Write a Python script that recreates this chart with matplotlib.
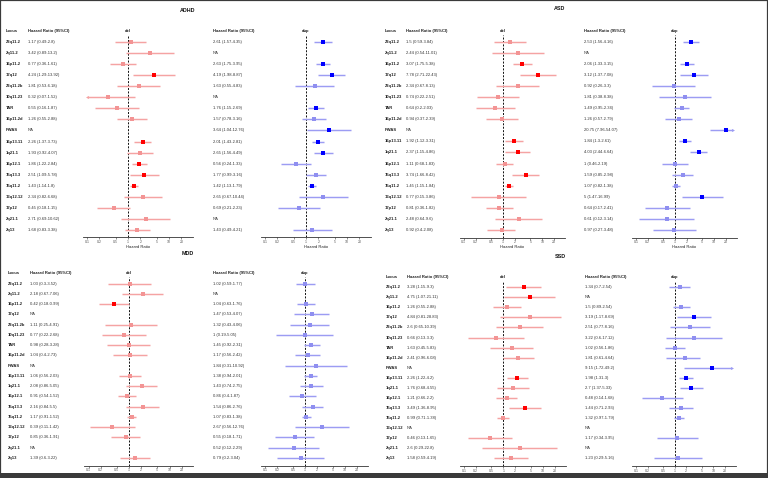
import numpy as np
import matplotlib
matplotlib.use("Agg")
import matplotlib.pyplot as plt
import matplotlib.transforms as mtransforms
from matplotlib.patches import Rectangle

plt.rcParams['font.family'] = ['Liberation Sans', 'DejaVu Sans']

NA = np.nan

loci = ["22q11.2", "2q11.2", "16p11.2", "17q12", "22q11.2b", "10q11.23", "TAR",
        "16p11.2d", "PWAS", "16p13.11", "1q21.1", "16p12.1", "15q13.3", "15q11.2",
        "13q12.12", "17p12", "2q21.1", "2q13"]

# ---- ADHD ----
adhd_del_hr = [1.17, 3.42, 0.77, 4.24, 1.81, 0.32, 0.55, 1.26, NA, 2.26, 1.93, 1.86, 2.51, 1.43, 2.34, 0.45, 2.71, 1.68]
adhd_del_lo = [0.49, 0.89, 0.36, 1.29, 0.53, 0.07, 0.16, 0.55, NA, 1.37, 0.92, 1.22, 1.09, 1.14, 0.82, 0.18, 0.69, 0.83]
adhd_del_hi = [2.8, 13.2, 1.61, 13.92, 6.18, 1.52, 1.87, 2.88, NA, 3.73, 4.07, 2.84, 5.78, 1.8, 6.68, 1.15, 10.62, 3.38]
adhd_dup_hr = [2.61, NA, 2.63, 4.19, 1.63, NA, 1.76, 1.57, 3.64, 2.01, 2.65, 0.56, 1.77, 1.42, 2.65, 0.69, NA, 1.43]
adhd_dup_lo = [1.57, NA, 1.75, 1.98, 0.55, NA, 1.15, 0.78, 1.04, 1.43, 1.56, 0.24, 0.99, 1.13, 0.67, 0.21, NA, 0.49]
adhd_dup_hi = [4.35, NA, 3.95, 8.87, 4.83, NA, 2.69, 3.16, 12.76, 2.81, 4.49, 1.33, 3.16, 1.79, 10.44, 2.23, NA, 4.21]

# ---- ASD ----
asd_del_hr = [1.5, 2.44, 3.07, 7.78, 2.34, 0.74, 0.64, 0.94, NA, 1.92, 2.37, 1.11, 3.74, 1.45, 0.77, 0.81, 2.48, 0.92]
asd_del_lo = [0.59, 0.54, 1.75, 2.71, 0.67, 0.22, 0.2, 0.37, NA, 1.12, 1.15, 0.68, 1.66, 1.15, 0.15, 0.36, 0.64, 0.4]
asd_del_hi = [3.84, 11.01, 5.38, 22.43, 8.13, 2.51, 2.03, 2.39, NA, 3.31, 4.86, 1.83, 8.42, 1.84, 3.86, 1.82, 9.6, 2.08]
asd_dup_hr = [2.53, NA, 2.06, 3.12, 0.92, 1.81, 1.49, 1.26, 20.75, 1.84, 4.03, 1, 1.59, 1.07, 5, 0.64, 0.61, 0.97]
asd_dup_lo = [1.56, NA, 1.33, 1.37, 0.26, 0.38, 0.95, 0.57, 7.96, 1.3, 2.44, 0.46, 0.85, 0.82, 1.47, 0.17, 0.12, 0.27]
asd_dup_hi = [4.16, NA, 3.15, 7.08, 3.3, 8.38, 2.34, 2.79, 54.07, 2.61, 6.64, 2.19, 2.98, 1.38, 16.99, 2.41, 3.14, 3.48]

# ---- MDD ----
mdd_del_hr = [1.03, 2.18, 0.42, NA, 1.11, 0.77, 0.98, 1.04, NA, 1.06, 2.08, 0.91, 2.16, 1.17, 0.39, 0.85, NA, 1.39]
mdd_del_lo = [0.3, 0.67, 0.18, NA, 0.25, 0.22, 0.28, 0.4, NA, 0.56, 0.86, 0.54, 0.84, 0.91, 0.11, 0.36, NA, 0.6]
mdd_del_hi = [3.52, 7.06, 0.99, NA, 4.91, 2.68, 3.28, 2.73, NA, 2.03, 5.05, 1.52, 5.5, 1.52, 1.42, 1.91, NA, 3.22]
mdd_dup_hr = [1.02, NA, 1.04, 1.47, 1.32, 1, 1.45, 1.17, 1.84, 1.38, 1.43, 0.86, 1.54, 1.07, 2.67, 0.55, 0.52, 0.79]
mdd_dup_lo = [0.59, NA, 0.63, 0.53, 0.43, 0.19, 0.92, 0.56, 0.31, 0.94, 0.74, 0.4, 0.86, 0.83, 0.56, 0.18, 0.12, 0.2]
mdd_dup_hi = [1.77, NA, 1.76, 4.07, 4.06, 5.05, 2.31, 2.42, 10.92, 2.01, 2.75, 1.87, 2.76, 1.38, 12.76, 1.71, 2.29, 3.04]

# ---- SSD ----
ssd_del_hr = [3.28, 4.75, 1.26, 4.84, 2.6, 0.66, 1.63, 2.41, NA, 2.26, 1.76, 1.21, 3.49, 0.99, NA, 0.46, 2.6, 1.58]
ssd_del_lo = [1.15, 1.07, 0.55, 0.81, 0.65, 0.13, 0.45, 0.96, NA, 1.22, 0.68, 0.66, 1.36, 0.71, NA, 0.13, 0.29, 0.59]
ssd_del_hi = [9.3, 21.11, 2.88, 28.83, 10.39, 3.3, 5.83, 6.08, NA, 4.2, 4.55, 2.2, 8.95, 1.38, NA, 1.65, 22.8, 4.19]
ssd_dup_hr = [1.34, NA, 1.5, 3.19, 2.51, 3.22, 1.02, 1.81, 9.15, 1.98, 2.7, 0.48, 1.44, 1.32, NA, 1.17, NA, 1.23]
ssd_dup_lo = [0.7, NA, 0.89, 1.17, 0.77, 0.6, 0.56, 0.61, 1.72, 1.31, 1.37, 0.14, 0.71, 0.97, NA, 0.34, NA, 0.29]
ssd_dup_hi = [2.54, NA, 2.54, 8.69, 8.16, 17.12, 1.86, 4.64, 49.2, 3, 5.33, 1.68, 2.93, 1.79, NA, 3.95, NA, 5.16]

ticks = [0.1, 0.2, 0.5, 1, 2, 5, 10, 20]
tick_labels = ["0.1", "0.2", "0.5", "1", "2", "5", "10", "20"]
clip = (0.1, 30)

W, H = 768, 478
fig = plt.figure(figsize=(W / 100, H / 100), dpi=100)

col = {"del": {"line": "#f5a3a3", "weak": "#f39494", "strong": "#ff0000"},
       "dup": {"line": "#9c9cf3", "weak": "#8f8ff0", "strong": "#0000ff"}}
FS = 3.0


def fmt(v):
    return "{:g}".format(v)


def forest(kind, hr, lo, hi, cx, d, hr_x, geo):
    y0, y17, yaxis, yhead = geo["y0"], geo["y17"], geo["yaxis"], geo["yhead"]
    s = (y17 - y0) / 17.0
    ytop = yhead + 3.5
    lmin, lmax = -1.1, 1.58
    x0 = cx + lmin * d
    x1 = cx + lmax * d
    ax = fig.add_axes([x0 / W, 1 - yaxis / H, (x1 - x0) / W, (yaxis - ytop) / H])
    ax.set_xscale("log")
    ax.set_xlim(10 ** lmin, 10 ** lmax)
    ax.set_ylim((yaxis - y0) / s, (ytop - y0) / s)
    ax.patch.set_alpha(0)
    for sp in ["top", "right", "left"]:
        ax.spines[sp].set_visible(False)
    ax.spines["bottom"].set_linewidth(0.6)
    ax.spines["bottom"].set_color("#333333")
    ax.set_yticks([])
    ax.set_xticks(ticks)
    ax.set_xticklabels(tick_labels)
    ax.minorticks_off()
    ax.tick_params(axis="x", labelsize=2.5, length=1.2, width=0.4, pad=0.8,
                   labelcolor="#555555", color="#333333")
    ax.set_xlabel("Hazard Ratio", fontsize=3.0, labelpad=0.6, color="#222222")
    ax.axvline(1, color="black", ls=(0, (2.2, 1.6)), lw=0.65, zorder=1)

    c = col[kind]
    trans = mtransforms.blended_transform_factory(fig.transFigure, ax.transData)
    ax.text(hr_x / W, (yhead - y0) / s, "Hazard Ratio (95%CI)", transform=trans,
            fontsize=FS, fontweight="bold", va="center", ha="left", color="#222222")
    ax.text(1, (yhead - y0) / s, kind, fontsize=FS, fontweight="bold",
            va="center", ha="center", color="#222222")
    for i in range(len(hr)):
        if np.isnan(hr[i]):
            ax.text(hr_x / W, i, "NA", transform=trans, fontsize=FS,
                    va="center", ha="left", color="#333333")
            continue
        ax.text(hr_x / W, i, "%s (%s-%s)" % (fmt(hr[i]), fmt(lo[i]), fmt(hi[i])),
                transform=trans, fontsize=FS, va="center", ha="left", color="#333333")
        a = max(lo[i], clip[0])
        b = min(hi[i], clip[1])
        ax.plot([a, b], [i, i], color=c["line"], lw=1.05, solid_capstyle="butt", zorder=2)
        if lo[i] < clip[0]:
            ax.plot(a, i, marker="<", ms=2.2, color=c["line"], mew=0, zorder=2)
        if hi[i] > clip[1]:
            ax.plot(b, i, marker=">", ms=2.2, color=c["line"], mew=0, zorder=2)
        sig = lo[i] > 1 or hi[i] < 1
        if sig:
            ax.plot(hr[i], i, marker="s", ms=3.2, color=c["strong"], mew=0, zorder=3)
        else:
            ax.plot(hr[i], i, marker="s", ms=2.3, color=c["weak"], mew=0, zorder=3)
    return ax


def panel(name, title_xy, geo, locus_x, dl, du):
    fig.text(title_xy[0] / W, 1 - title_xy[1] / H, name, fontsize=3.9,
             fontweight="bold", ha="center", va="center", color="#111111")
    ax = forest("del", *dl, geo)
    forest("dup", *du, geo)
    s = (geo["y17"] - geo["y0"]) / 17.0
    trans = mtransforms.blended_transform_factory(fig.transFigure, ax.transData)
    ax.text(locus_x / W, (geo["yhead"] - geo["y0"]) / s, "Locus", transform=trans,
            fontsize=FS, fontweight="bold", va="center", ha="left", color="#222222")
    for i, lab in enumerate(loci):
        ax.text(locus_x / W, i, lab, transform=trans, fontsize=FS,
                fontweight="bold", va="center", ha="left", color="#222222")


panel("ADHD", (188, 10), dict(y0=42, y17=230, yaxis=237, yhead=31), 6,
      (adhd_del_hr, adhd_del_lo, adhd_del_hi, 128, 41, 28),
      (adhd_dup_hr, adhd_dup_lo, adhd_dup_hi, 306, 41, 213))
panel("ASD", (560, 9), dict(y0=41.7, y17=230, yaxis=237.5, yhead=31), 385,
      (asd_del_hr, asd_del_lo, asd_del_hi, 503, 39.3, 406),
      (asd_dup_hr, asd_dup_lo, asd_dup_hi, 675, 39, 584))
panel("MDD", (188, 253.5), dict(y0=283.7, y17=458, yaxis=465.5, yhead=273), 8,
      (mdd_del_hr, mdd_del_lo, mdd_del_hi, 129, 40.5, 30),
      (mdd_dup_hr, mdd_dup_lo, mdd_dup_hi, 305, 40, 212.7))
panel("SSD", (560, 256.5), dict(y0=287.3, y17=458, yaxis=466, yhead=277), 386,
      (ssd_del_hr, ssd_del_lo, ssd_del_hi, 503.3, 39.4, 406.7),
      (ssd_dup_hr, ssd_dup_lo, ssd_dup_hi, 674.7, 38.6, 585))

# window frame around the composite
fig.patches.append(Rectangle((0, 0), 1, 1, transform=fig.transFigure, fill=False,
                             lw=1.6, edgecolor="#3a3a3a"))
fig.patches.append(Rectangle((0, 0), 1, 5.5 / H, transform=fig.transFigure,
                             color="#3a3a3a", lw=0))

fig.savefig("out.png", dpi=100)
